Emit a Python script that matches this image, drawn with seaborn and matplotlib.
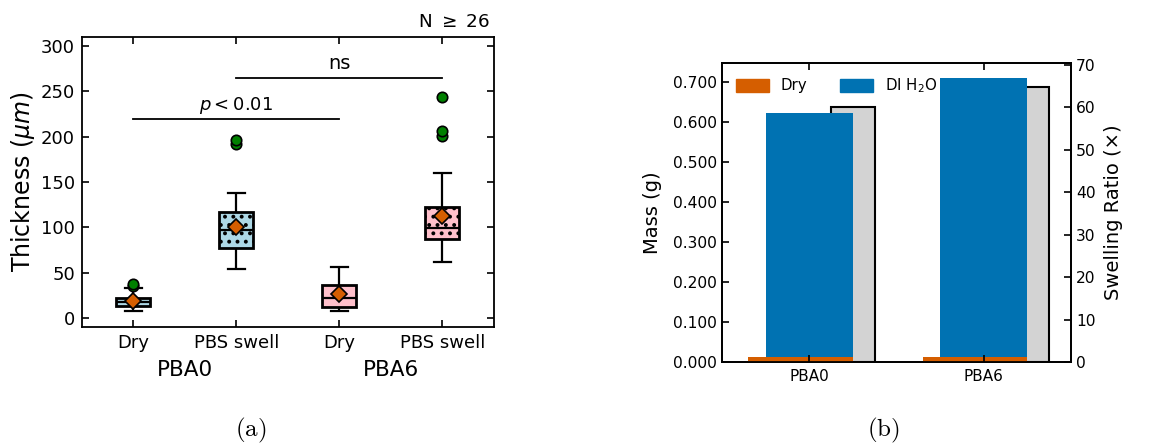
import numpy as np
import pandas as pd
import matplotlib
matplotlib.use("Agg")
import matplotlib.pyplot as plt
from matplotlib.patches import Patch
from matplotlib.ticker import FormatStrFormatter, MultipleLocator
import seaborn as sns

# ---------------- data ----------------
groups = ["PBA0", "PBA6"]
conditions = ["Dry", "PBS swell"]

pba0_dry = [8.1, 9.5, 10.5, 11.0, 11.8, 12.3, 12.6, 12.9,
            13.5, 14.2, 15.0, 15.8, 16.5, 17.3, 18.0,
            18.6, 19.2, 19.8, 20.4, 20.9, 21.3, 21.7,
            22.5, 23.5, 25.0, 27.0, 33.5, 35.5, 37.0]
pba0_pbs = [53.7, 56, 58, 61, 65, 70, 74, 76.9,
            78, 81, 85, 88, 91, 94, 96.8,
            98, 100, 103, 106, 110, 114, 117.4,
            119, 121, 124, 129, 137.7, 191.4, 196.6]
pba6_dry = [7.4, 8.5, 9.5, 10.2, 11.0, 11.6, 12.1, 12.5,
            14, 15.5, 17, 18.5, 20, 21.5, 22.5,
            24, 26, 28, 30, 32.5, 35, 36.8,
            39, 41, 43, 46, 49, 53, 56.7]
pba6_pbs = [61.8, 66, 71, 76, 80, 83, 85.5, 87.6,
            89, 91, 93, 95, 96.5, 98, 99,
            100, 102, 105, 109, 113, 118, 122.2,
            125, 130, 140, 160.1, 200.6, 206.5, 243.3]

mass_dry = [0.0115, 0.0116]
mass_wet = [0.6225, 0.7100]
swelling_ratio = [60.0, 64.8]

# ---------------- figure ----------------
plt.rcParams["font.family"] = ["DejaVu Sans"]
plt.rcParams["hatch.linewidth"] = 1.6
plt.rcParams["hatch.color"] = "black"

fig = plt.figure(figsize=(11.74, 4.43), dpi=100)
ax1 = fig.add_axes([0.0698, 0.2619, 0.3509, 0.6546])
ax2 = fig.add_axes([0.615, 0.1828, 0.2973, 0.675])

# ---------- panel (a) ----------
series = [pba0_dry, pba0_pbs, pba6_dry, pba6_pbs]
order = [f"{g}\n{c}" for g in groups for c in conditions]
rows = []
for lab, vals in zip(order, series):
    for v in vals:
        rows.append({"label": lab, "thickness": v})
df = pd.DataFrame(rows)
fill = {"PBA0": "#ADD8E6", "PBA6": "#FFC0CB"}
palette = {lab: fill[lab.split("\n")[0]] for lab in order}

sns.boxplot(data=df, x="label", y="thickness", hue="label", order=order,
            hue_order=order, palette=palette, width=0.33, saturation=1,
            linecolor="black", linewidth=1.6, showmeans=True, legend=False,
            meanprops=dict(marker="D", markerfacecolor="#D55E00",
                           markeredgecolor="black", markersize=8.5,
                           markeredgewidth=1.2),
            flierprops=dict(marker="o", markerfacecolor="green",
                            markeredgecolor="black", markersize=7.5,
                            markeredgewidth=1.2),
            ax=ax1)

boxes = [p for p in ax1.patches]
for i, p in enumerate(boxes):
    p.set_edgecolor("black")
    p.set_linewidth(2.0)
    if conditions[i % 2] == "PBS swell":
        p.set_hatch("..")

ax1.set_xlim(-0.5, 3.5)
ax1.set_ylim(-10, 310)
ax1.yaxis.set_major_locator(MultipleLocator(50))
ax1.set_xticks(range(4))
ax1.set_xticklabels([c for g in groups for c in conditions])
ax1.tick_params(direction="in", top=True, right=True, length=5, width=1.2,
                labelsize=13, pad=5)
ax1.set_xlabel("")
ax1.set_ylabel(r"Thickness ($\mu m$)", fontsize=17, labelpad=3)
for s in ax1.spines.values():
    s.set_linewidth(1.3)

trans = matplotlib.transforms.blended_transform_factory(ax1.transData, ax1.transAxes)
for gi, g in enumerate(groups):
    ax1.text(gi * 2 + 0.5, -0.148, g, transform=trans, ha="center", va="center",
             fontsize=15.5)

ax1.plot([0, 2], [220, 220], color="black", lw=1.3)
ax1.text(1, 229, r"$p < 0.01$", ha="center", va="baseline", fontsize=13)
ax1.plot([1, 3], [265, 265], color="black", lw=1.3)
ax1.text(2, 275, "ns", ha="center", va="baseline", fontsize=14)
ax1.text(0.99, 1.02, r"N $\geq$ 26", transform=ax1.transAxes, ha="right",
         va="bottom", fontsize=13.2)

# ---------- panel (b) ----------
ax3 = ax2.twinx()
ax2.set_zorder(ax3.get_zorder() + 1)
ax2.patch.set_visible(False)

pos = np.arange(len(groups))
sns.barplot(x=pos + 0.25, y=swelling_ratio, native_scale=True, width=0.25,
            color="#D3D3D3", saturation=1, edgecolor="black", linewidth=1.5,
            errorbar=None, ax=ax3)
sns.barplot(x=pos, y=mass_wet, native_scale=True, width=0.5,
            color="#0072B2", saturation=1, linewidth=0, errorbar=None, ax=ax2)
sns.barplot(x=pos - 0.05, y=mass_dry, native_scale=True, width=0.6,
            color="#D55E00", saturation=1, linewidth=0, errorbar=None, ax=ax2)

ax2.set_xlim(-0.5, 1.5)
ax2.set_xticks(pos)
ax2.set_xticklabels(groups)
ax2.set_ylim(0, 0.748)
ax2.set_yticks(np.arange(0, 0.71, 0.1))
ax2.yaxis.set_major_formatter(FormatStrFormatter("%.3f"))
ax2.tick_params(axis="y", direction="in", length=5, width=1.2, labelsize=11.2,
                right=False)
ax2.tick_params(axis="x", direction="in", length=5, width=1.2, labelsize=11,
                top=True, pad=5)
ax2.set_xlabel("")
ax2.set_ylabel("Mass (g)", fontsize=14, labelpad=8)

ax3.set_ylim(0, 70.4)
ax3.set_yticks(range(0, 71, 10))
ax3.tick_params(axis="y", direction="in", length=5, width=1.2, labelsize=11.2)
ax3.set_ylabel("Swelling Ratio (×)", fontsize=14, labelpad=6)
ax3.set_xlabel("")
for a in (ax2, ax3):
    for s in a.spines.values():
        s.set_linewidth(1.3)

ax2.legend(handles=[Patch(color="#D55E00", label="Dry"),
                    Patch(color="#0072B2", label=r"DI H$_2$O")],
           loc="upper left", ncol=2, frameon=False, fontsize=10.8,
           handlelength=2.2, handleheight=0.9, columnspacing=2.2)

# captions
fig.text(251 / 1174, 0.029, r"$\mathrm{(a)}$", math_fontfamily="cm",
         fontsize=18, ha="center", va="center")
fig.text(883 / 1174, 0.029, r"$\mathrm{(b)}$", math_fontfamily="cm",
         fontsize=18, ha="center", va="center")

fig.savefig("out.png", dpi=100)
